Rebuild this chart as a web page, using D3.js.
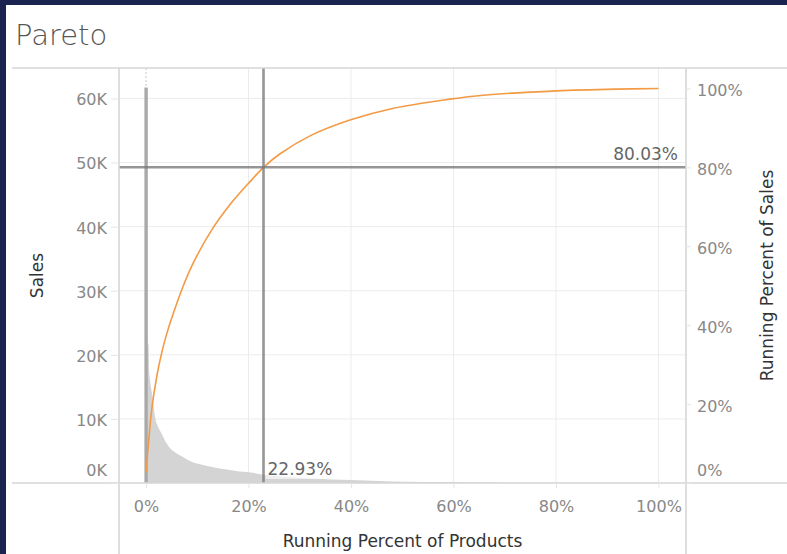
<!DOCTYPE html>
<html>
<head>
<meta charset="utf-8">
<script src="https://cdn.jsdelivr.net/npm/d3@7"></script>
<style>
  html, body { margin: 0; padding: 0; background: #1b2350; }
  svg { display: block; }
  text { font-family: "DejaVu Sans", sans-serif; }
</style>
</head>
<body>
<svg id="chart" width="787" height="554"></svg>
<script>
// ---- data ----
const productTicks = [0, 0.2, 0.4, 0.6, 0.8, 1];
const salesTicks = [0, 10000, 20000, 30000, 40000, 50000, 60000];
const runTicks = [0, 0.2, 0.4, 0.6, 0.8, 1];

// top product (drawn darker), then the sales of the remaining products
const topProductSales = 61700;
const barStart = [0.0025, 0.005, 0.0062, 0.0088, 0.0127, 0.0176, 0.024, 0.0306, 0.0386, 0.0484, 0.06, 0.073,
  0.089, 0.109, 0.131, 0.157, 0.183, 0.209, 0.229, 0.265, 0.325, 0.40, 0.48, 0.60, 0.724, 1];
const barSales = [22000, 21500, 17500, 15500, 13400, 10300, 8700, 7700, 6400, 5300, 4600, 4000,
  3300, 2850, 2450, 2100, 1800, 1600, 1300, 1000, 700, 450, 250, 150, 50, 40];

// running percent of sales line
const curveProducts = [0, 0.0045, 0.011, 0.021, 0.0306, 0.0404, 0.0507, 0.0728, 0.0923, 0.128, 0.164,
  0.203, 0.2293, 0.261, 0.32, 0.398, 0.483, 0.593, 0.658, 0.801, 0.918, 1];
const curveRunning = [0.027, 0.095, 0.185, 0.27, 0.33, 0.378, 0.42, 0.50, 0.558, 0.641, 0.706,
  0.764, 0.8003, 0.834, 0.88, 0.920, 0.950, 0.973, 0.983, 0.994, 0.9985, 1];

const refProducts = 0.2293;
const refRunning = 0.8003;

// ---- layout ----
const W = 787, H = 554;
const plot = { left: 119, right: 686, top: 68, bottom: 483 };

const svg = d3.select("#chart");

// panel
svg.append("rect").attr("x", 6).attr("y", 5).attr("width", W - 6).attr("height", H - 5).attr("fill", "#fff");

svg.append("text")
  .attr("x", 15).attr("y", 45)
  .style("font-size", "29px").style("font-weight", 200)
  .attr("fill", "#555")
  .text("Pareto");

// scales
const x = d3.scaleLinear().domain([-0.0527, 1.0537]).range([plot.left, plot.right]);
const ySales = d3.scaleLinear().domain([0, 64750]).range([plot.bottom, plot.top]);
const yRun = d3.scaleLinear().domain([0, 1.052]).range([plot.bottom, plot.top]);

// gridlines
const grid = svg.append("g");
grid.selectAll("line.h").data(salesTicks.slice(1)).enter().append("line")
  .attr("x1", plot.left).attr("x2", plot.right)
  .attr("y1", d => ySales(d)).attr("y2", d => ySales(d))
  .attr("stroke", "#ececec");
grid.selectAll("line.v").data(productTicks.slice(1)).enter().append("line")
  .attr("y1", plot.top).attr("y2", plot.bottom)
  .attr("x1", d => x(d)).attr("x2", d => x(d))
  .attr("stroke", "#ececec");
grid.append("line")
  .attr("x1", x(0)).attr("x2", x(0)).attr("y1", plot.top).attr("y2", plot.bottom)
  .attr("stroke", "#c8c8c8").attr("stroke-dasharray", "2,2");

// bars: thousands of thin product bars, drawn as one filled profile
const bars = d3.area()
  .x((d, i) => x(barStart[i]))
  .y0(plot.bottom)
  .y1(d => ySales(d))
  .curve(d3.curveMonotoneX);
svg.append("path")
  .datum(barSales)
  .attr("d", bars)
  .attr("fill", "#d4d4d4");

svg.append("rect")
  .attr("x", x(0) - 1.6).attr("width", 3.4)
  .attr("y", ySales(topProductSales))
  .attr("height", plot.bottom - ySales(topProductSales))
  .attr("fill", "#a9a9a9");

// running percent line
const line = d3.line()
  .x((d, i) => x(curveProducts[i]))
  .y(d => yRun(d))
  .curve(d3.curveCatmullRom.alpha(0.5));
svg.append("path")
  .datum(curveRunning)
  .attr("d", line)
  .attr("fill", "none")
  .attr("stroke", "#f39a45")
  .attr("stroke-width", 1.6);

// reference lines
svg.append("line")
  .attr("x1", plot.left).attr("x2", plot.right)
  .attr("y1", yRun(refRunning)).attr("y2", yRun(refRunning))
  .attr("stroke", "#7a7a7a").attr("stroke-opacity", 0.8).attr("stroke-width", 2.6);
svg.append("line")
  .attr("x1", x(refProducts)).attr("x2", x(refProducts))
  .attr("y1", plot.top).attr("y2", plot.bottom)
  .attr("stroke", "#7a7a7a").attr("stroke-opacity", 0.8).attr("stroke-width", 2.6);

svg.append("rect")
  .attr("x", x(refProducts) + 2).attr("y", plot.bottom - 24)
  .attr("width", 70).attr("height", 20)
  .attr("fill", "#fff").attr("fill-opacity", 0.6);
svg.append("text")
  .attr("x", x(refProducts) + 4).attr("y", plot.bottom - 8)
  .style("font-size", "17px").attr("fill", "#666")
  .text(d3.format(".2%")(refProducts));
svg.append("text")
  .attr("x", plot.right - 8).attr("y", yRun(refRunning) - 7)
  .attr("text-anchor", "end")
  .style("font-size", "17px").attr("fill", "#666")
  .text(d3.format(".2%")(refRunning));

// frame lines
const frame = svg.append("g").attr("stroke", "#d6d6d6").attr("stroke-width", 1.6);
frame.append("line").attr("x1", 12).attr("x2", W).attr("y1", plot.top).attr("y2", plot.top);
frame.append("line").attr("x1", 12).attr("x2", W).attr("y1", plot.bottom).attr("y2", plot.bottom);
frame.append("line").attr("x1", plot.left).attr("x2", plot.left).attr("y1", plot.top).attr("y2", H);
frame.append("line").attr("x1", plot.right).attr("x2", plot.right).attr("y1", plot.top).attr("y2", H);

// axes
function styleAxis(g) {
  g.select(".domain").remove();
  g.selectAll(".tick line").attr("stroke", "#e6e6e6");
  g.selectAll(".tick text").attr("fill", "#888").style("font-size", "16px");
}

svg.append("g")
  .attr("transform", `translate(${plot.left},0)`)
  .call(d3.axisLeft(ySales).tickValues(salesTicks).tickFormat(d => d / 1000 + "K").tickSize(8).tickPadding(4))
  .call(styleAxis)
  .selectAll(".tick text").attr("dy", d => d === 0 ? "-0.45em" : "0.4em");

svg.append("g")
  .attr("transform", `translate(${plot.right},0)`)
  .call(d3.axisRight(yRun).tickValues(runTicks).tickFormat(d3.format(".0%")).tickSize(5).tickPadding(6))
  .call(styleAxis)
  .selectAll(".tick text").attr("dy", d => d === 0 ? "-0.45em" : "0.45em");

svg.append("g")
  .attr("transform", `translate(0,${plot.bottom})`)
  .call(d3.axisBottom(x).tickValues(productTicks).tickFormat(d3.format(".0%")).tickSize(5).tickPadding(13))
  .call(styleAxis);

// axis titles
svg.append("text")
  .attr("x", (plot.left + plot.right) / 2).attr("y", 547)
  .attr("text-anchor", "middle")
  .style("font-size", "17px").attr("fill", "#333")
  .text("Running Percent of Products");

svg.append("text")
  .attr("transform", `translate(43,${(plot.top + plot.bottom) / 2}) rotate(-90)`)
  .attr("text-anchor", "middle")
  .style("font-size", "17px").attr("fill", "#333")
  .text("Sales");

svg.append("text")
  .attr("transform", `translate(773,${(plot.top + plot.bottom) / 2}) rotate(-90)`)
  .attr("text-anchor", "middle")
  .style("font-size", "17px").attr("fill", "#333")
  .text("Running Percent of Sales");
</script>
</body>
</html>
